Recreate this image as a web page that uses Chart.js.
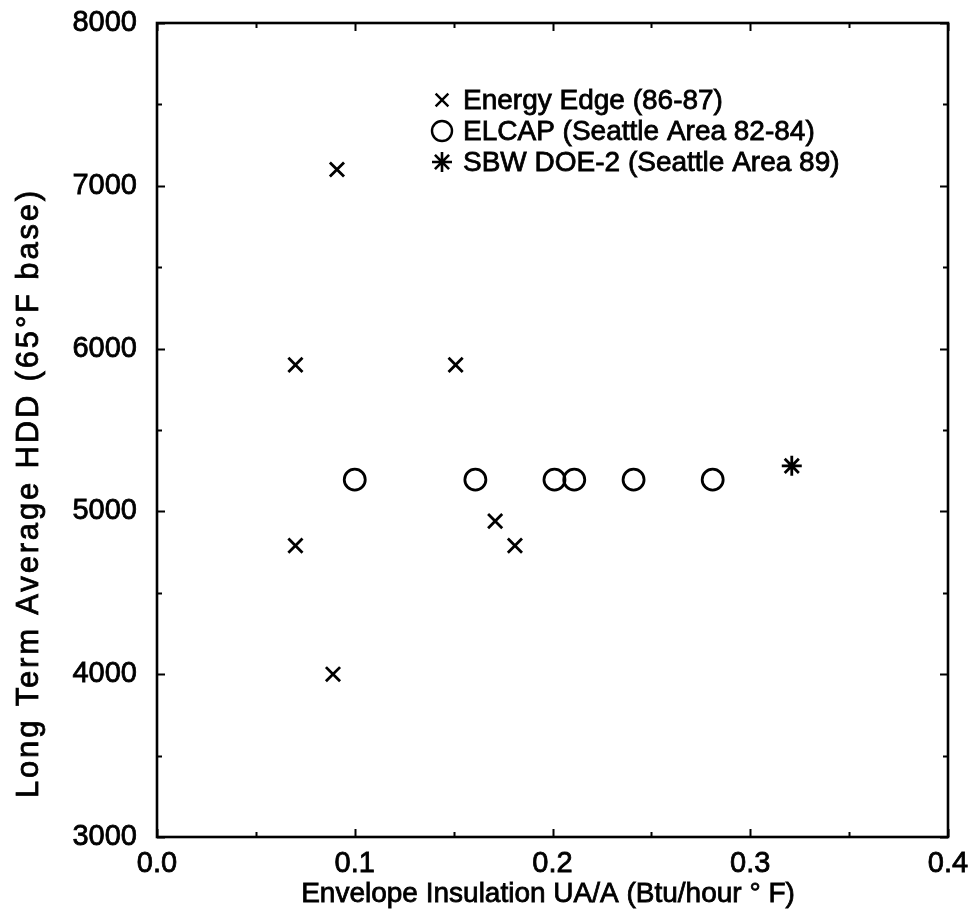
<!DOCTYPE html>
<html>
<head>
<meta charset="utf-8">
<script src="https://cdn.jsdelivr.net/npm/chart.js@4/dist/chart.umd.min.js"></script>
<style>
  html, body { margin: 0; padding: 0; background: #fff; }
  #wrap { width: 972px; height: 917px; }
</style>
</head>
<body>
<div id="wrap"><canvas id="chart" width="972" height="917"></canvas></div>
<script>
// data
const energyEdgeX = [0.091, 0.070, 0.151, 0.070, 0.089, 0.171, 0.181];
const energyEdgeY = [7100, 5900, 5900, 4790, 4000, 4940, 4790];
const elcapX = [0.100, 0.161, 0.201, 0.211, 0.241, 0.281];
const elcapY = [5195, 5195, 5195, 5195, 5195, 5195];
const sbwX = [0.321];
const sbwY = [5280];

const seriesNames = [
  "Energy Edge (86-87)",
  "ELCAP (Seattle Area 82-84)",
  "SBW DOE-2 (Seattle Area 89)",
];

const xTicks = [0, 0.1, 0.2, 0.3, 0.4];
const xTickLabels = ["0.0", "0.1", "0.2", "0.3", "0.4"];
const xMinorTicks = [0.05, 0.15, 0.25, 0.35];
const yTicks = [3000, 4000, 5000, 6000, 7000, 8000];
const yTickLabels = ["3000", "4000", "5000", "6000", "7000", "8000"];
const yMinorTicks = [3500, 4500, 5500, 6500, 7500];

const xTitle = "Envelope Insulation UA/A (Btu/hour \u00B0 F)";
const yTitle = "Long Term Average HDD (65\u00B0F base)";

const FONT = '"Liberation Sans", Arial, Helvetica, sans-serif';
const INK = 0.8; // thin outline so text looks as heavy as the scan

function toPoints(xs, ys) {
  return xs.map((v, i) => ({ x: v, y: ys[i] }));
}

// box round the plot with inward ticks on all four sides
const frameTicks = {
  id: "frameTicks",
  afterDatasetsDraw(chart) {
    const { ctx, chartArea: a, scales } = chart;
    const sx = scales.x, sy = scales.y;
    ctx.save();
    ctx.strokeStyle = "#000";
    ctx.lineCap = "butt";
    ctx.lineWidth = 2;
    ctx.beginPath();
    const tickX = (vals, len) => {
      vals.forEach((v) => {
        const px = Math.round(sx.getPixelForValue(v)) + 0.5;
        ctx.moveTo(px, a.bottom); ctx.lineTo(px, a.bottom - len);
        ctx.moveTo(px, a.top); ctx.lineTo(px, a.top + len);
      });
    };
    const tickY = (vals, len) => {
      vals.forEach((v) => {
        const py = Math.round(sy.getPixelForValue(v)) + 0.5;
        ctx.moveTo(a.left, py); ctx.lineTo(a.left + len, py);
        ctx.moveTo(a.right, py); ctx.lineTo(a.right - len, py);
      });
    };
    tickX(xTicks, 8);
    tickX(xMinorTicks, 5);
    tickY(yTicks, 8);
    tickY(yMinorTicks, 5);
    ctx.stroke();
    ctx.lineWidth = 2.6;
    ctx.strokeRect(a.left, a.top, a.right - a.left, a.bottom - a.top);
    ctx.restore();
  },
};

function drawMarker(ctx, style, x, y, r) {
  ctx.beginPath();
  if (style === "crossRot") {
    const d = r * 0.707;
    ctx.moveTo(x - d, y - d); ctx.lineTo(x + d, y + d);
    ctx.moveTo(x - d, y + d); ctx.lineTo(x + d, y - d);
  } else if (style === "circle") {
    ctx.arc(x, y, r, 0, Math.PI * 2);
  } else if (style === "star") {
    for (let k = 0; k < 4; k++) {
      const ang = (k * Math.PI) / 4;
      ctx.moveTo(x - Math.cos(ang) * r, y - Math.sin(ang) * r);
      ctx.lineTo(x + Math.cos(ang) * r, y + Math.sin(ang) * r);
    }
  }
  ctx.stroke();
}

function inkText(ctx, txt, x, y) {
  ctx.lineWidth = INK;
  ctx.strokeText(txt, x, y);
  ctx.fillText(txt, x, y);
}

// legend inside the plot, plus the two axis titles
const annotations = {
  id: "annotations",
  afterDraw(chart) {
    const ctx = chart.ctx;
    ctx.save();
    ctx.fillStyle = "#000";
    ctx.strokeStyle = "#000";
    ctx.font = "28px " + FONT;
    ctx.textBaseline = "middle";
    ctx.textAlign = "left";
    const rows = [100, 131, 162];
    const styles = [
      { s: "crossRot", r: 9, w: 2.4 },
      { s: "circle", r: 10, w: 2.4 },
      { s: "star", r: 10, w: 2.6 },
    ];
    rows.forEach((ry, i) => {
      ctx.lineWidth = styles[i].w;
      drawMarker(ctx, styles[i].s, 442, ry, styles[i].r);
      inkText(ctx, seriesNames[i], 463, ry + 1);
    });

    // x title
    ctx.textAlign = "center";
    inkText(ctx, xTitle, 548, 894);

    // y title, spread to the length it has in the scan
    ctx.translate(29, 493);
    ctx.rotate(-Math.PI / 2);
    ctx.font = "31px " + FONT;
    const target = 610;
    const w = ctx.measureText(yTitle).width;
    let done = false;
    if ("letterSpacing" in ctx) {
      ctx.letterSpacing = ((target - w) / yTitle.length).toFixed(2) + "px";
      const w2 = ctx.measureText(yTitle).width;
      if (w2 > w + 1) {
        ctx.textAlign = "left";
        inkText(ctx, yTitle, -w2 / 2, 0);
        done = true;
      }
    }
    if (!done) {
      ctx.scale(target / w, 1);
      inkText(ctx, yTitle, 0, 0);
    }
    ctx.restore();
  },
};

const tickFont = { family: FONT, size: 29 };

new Chart(document.getElementById("chart"), {
  type: "scatter",
  data: {
    datasets: [
      {
        label: seriesNames[0],
        data: toPoints(energyEdgeX, energyEdgeY),
        pointStyle: "crossRot",
        pointRadius: 10,
        borderColor: "#000",
        backgroundColor: "#000",
        borderWidth: 2.8,
      },
      {
        label: seriesNames[1],
        data: toPoints(elcapX, elcapY),
        pointStyle: "circle",
        pointRadius: 10.5,
        borderColor: "#000",
        backgroundColor: "rgba(0,0,0,0)",
        borderWidth: 2.8,
      },
      {
        label: seriesNames[2],
        data: toPoints(sbwX, sbwY),
        pointStyle: "star",
        pointRadius: 10,
        borderColor: "#000",
        backgroundColor: "#000",
        borderWidth: 2.8,
      },
    ],
  },
  options: {
    responsive: false,
    animation: false,
    events: [],
    layout: { padding: { top: 23, right: 24, left: 0, bottom: 0 } },
    plugins: {
      legend: { display: false },
      tooltip: { enabled: false },
    },
    scales: {
      x: {
        type: "linear",
        min: 0,
        max: 0.4,
        afterBuildTicks: (s) => { s.ticks = xTicks.map((v) => ({ value: v })); },
        afterFit: (s) => { s.height = 80; s.paddingLeft = 0; s.paddingRight = 0; },
        grid: { display: false, drawTicks: false },
        border: { display: false },
        ticks: {
          color: "#000",
          font: tickFont,
          padding: 10,
          maxRotation: 0,
          autoSkip: false,
          textStrokeColor: "#000",
          textStrokeWidth: INK,
          callback: (v, i) => xTickLabels[i],
        },
      },
      y: {
        type: "linear",
        min: 3000,
        max: 8000,
        afterBuildTicks: (s) => { s.ticks = yTicks.map((v) => ({ value: v })); },
        afterFit: (s) => { s.width = 157; s.paddingTop = 0; s.paddingBottom = 0; },
        grid: { display: false, drawTicks: false },
        border: { display: false },
        ticks: {
          color: "#000",
          font: tickFont,
          padding: 20,
          autoSkip: false,
          textStrokeColor: "#000",
          textStrokeWidth: INK,
          callback: (v, i) => yTickLabels[i],
        },
      },
    },
  },
  plugins: [frameTicks, annotations],
});
</script>
</body>
</html>
